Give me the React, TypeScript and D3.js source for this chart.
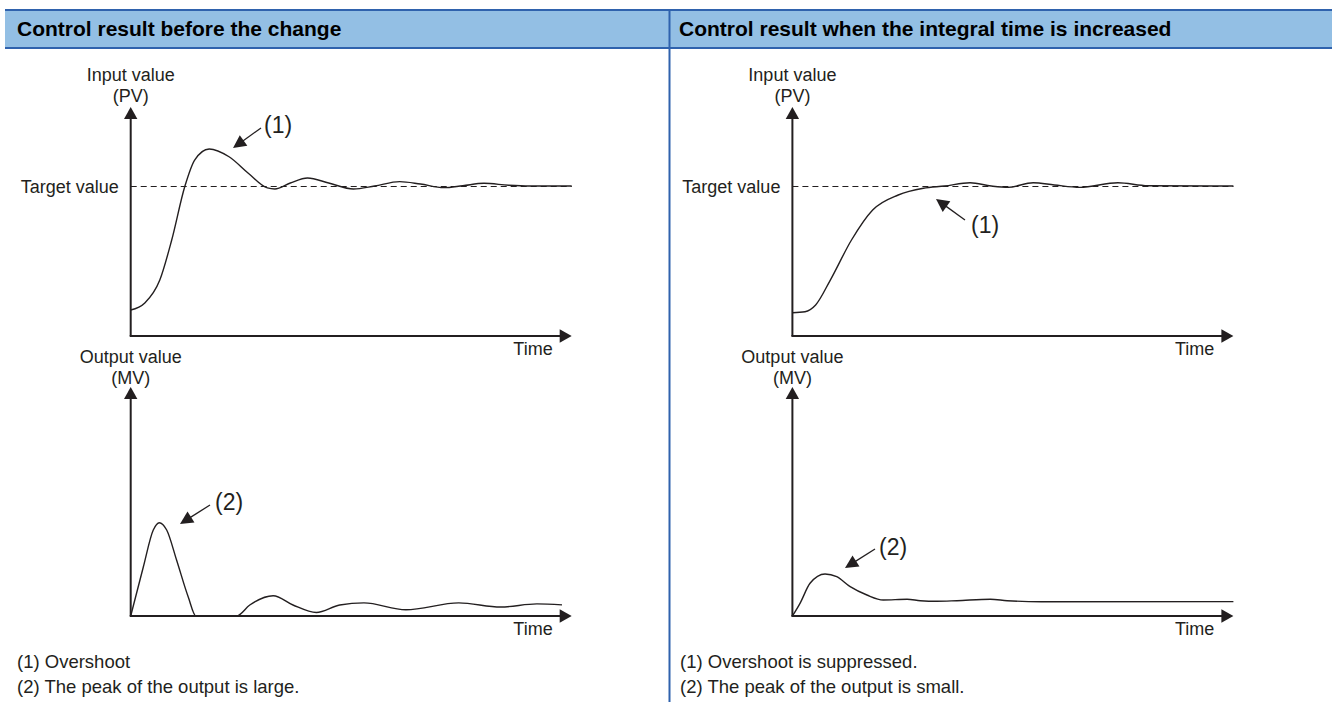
import React from "react";
import * as d3 from "d3";

// ---------- text ----------
const panelTitles = [
  "Control result before the change",
  "Control result when the integral time is increased",
];
const pvAxisLabel = ["Input value", "(PV)"];
const mvAxisLabel = ["Output value", "(MV)"];
const targetLabel = "Target value";
const timeLabel = "Time";
const notesBefore = ["(1) Overshoot", "(2) The peak of the output is large."];
const notesAfter = ["(1) Overshoot is suppressed.", "(2) The peak of the output is small."];
const markLabels = ["(1)", "(2)"];

// ---------- data: [time (0-100), value] ----------
// Input value (PV), target = 1
const pvBefore: [number, number][] = [
  [0, 0.173], [3.2, 0.22], [6.6, 0.373], [9.3, 0.64], [12.3, 1.0], [14.5, 1.173],
  [17.8, 1.247], [22.3, 1.195], [26.6, 1.087], [31, 0.987], [32.7, 0.98],
  [36.2, 1.02], [40.1, 1.053], [44.9, 1.02], [50.5, 0.98], [55.3, 1.0],
  [61, 1.029], [65.7, 1.013], [71, 0.989], [75.3, 1.002], [80.1, 1.018],
  [85.7, 1.005], [90.5, 1.0], [100, 1.0],
];
const pvAfter: [number, number][] = [
  [0, 0.155], [2.86, 0.162], [5.27, 0.207], [8.6, 0.373], [13.4, 0.64], [18.2, 0.84],
  [24, 0.94], [29.7, 0.985], [34.5, 1.0], [40.3, 1.022], [45.1, 1.0], [48.9, 0.991],
  [54.6, 1.022], [59.4, 1.007], [65.2, 0.991], [73.8, 1.022], [80.6, 1.002], [100, 1.0],
];
// Output value (MV)
const mvBefore: [number, number][] = [
  [0, 0], [2.86, 0.49], [5.12, 0.86], [6.48, 0.933], [8.16, 0.86], [10.4, 0.56],
  [13.05, 0.19], [14.8, 0], [24, 0], [27, 0.11], [32.3, 0.203], [36.8, 0.11],
  [42.1, 0.035], [47.4, 0.11], [52.9, 0.131], [62.4, 0.062], [74.4, 0.131],
  [83.9, 0.09], [92.1, 0.121], [97.8, 0.111],
];
const mvAfter: [number, number][] = [
  [0, 0], [1.73, 0.127], [4.0, 0.327], [7.4, 0.42], [10.05, 0.393], [13.1, 0.293],
  [16.9, 0.21], [20.6, 0.16], [26.0, 0.167], [29.0, 0.153], [32.8, 0.147],
  [37.3, 0.153], [44.9, 0.167], [48.7, 0.153], [56.4, 0.143], [100, 0.144],
];

// ---------- styles ----------
const INK = "#231f20";
const BAND = "#93bfe4";
const RULE = "#2f62ad";
const FONT = "'Liberation Sans', Arial, Helvetica, sans-serif";

const W = 1332;
const H = 702;

type Pt = [number, number];

function Arrowhead({ from, to, len = 12, half = 6 }: { from: Pt; to: Pt; len?: number; half?: number }) {
  const dx = to[0] - from[0];
  const dy = to[1] - from[1];
  const d = Math.hypot(dx, dy);
  const ux = dx / d, uy = dy / d;
  const bx = to[0] - ux * len, by = to[1] - uy * len;
  const px = -uy * half, py = ux * half;
  const pts = [to, [bx + px, by + py], [bx - px, by - py]];
  return <polygon points={pts.map((p) => p.join(",")).join(" ")} fill={INK} />;
}

function ArrowLine({ from, to }: { from: Pt; to: Pt }) {
  const dx = to[0] - from[0], dy = to[1] - from[1];
  const d = Math.hypot(dx, dy);
  const end: Pt = [to[0] - (dx / d) * 10, to[1] - (dy / d) * 10];
  return (
    <g>
      <line x1={from[0]} y1={from[1]} x2={end[0]} y2={end[1]} stroke={INK} strokeWidth={1.3} />
      <Arrowhead from={from} to={to} len={13} half={6.5} />
    </g>
  );
}

function Axes({ x, y, tipX, tipY }: { x: number; y: number; tipX: number; tipY: number }) {
  return (
    <g>
      <line x1={x} y1={y} x2={x} y2={tipY + 11} stroke={INK} strokeWidth={2} />
      <line x1={x - 1} y1={y} x2={tipX - 11} y2={y} stroke={INK} strokeWidth={2} />
      <Arrowhead from={[x, y]} to={[x, tipY]} len={12} half={6.7} />
      <Arrowhead from={[x, y]} to={[tipX, y]} len={12} half={6.7} />
    </g>
  );
}

interface PanelProps {
  ox: number; // y-axis x position
  pv: Pt[];
  mv: Pt[];
  ann1: { text: Pt; from: Pt; to: Pt };
  ann2: { text: Pt; from: Pt; to: Pt };
}

const AXIS_LEN = 441;
const PV_AXIS_Y = 336;
const PV_TOP = 107;
const PV_TARGET_Y = 186;
const MV_AXIS_Y = 616;
const MV_TOP = 387;

function Panel({ ox, pv, mv, ann1, ann2 }: PanelProps) {
  const x = d3.scaleLinear().domain([0, 100]).range([ox, ox + AXIS_LEN]);
  const yPV = d3.scaleLinear().domain([0, 1]).range([PV_AXIS_Y, PV_TARGET_Y]);
  const yMV = d3.scaleLinear().domain([0, 1]).range([MV_AXIS_Y, MV_AXIS_Y - 100]);
  const linePV = d3.line<Pt>().x((d) => x(d[0])).y((d) => yPV(d[1])).curve(d3.curveMonotoneX);
  const lineMV = d3.line<Pt>().x((d) => x(d[0])).y((d) => yMV(d[1])).curve(d3.curveMonotoneX);
  const tipX = x(100);
  const txt = { fontFamily: FONT, fontSize: 18, fill: INK } as const;
  const big = { fontFamily: FONT, fontSize: 23, fill: INK } as const;
  return (
    <g>
      {/* PV chart */}
      <text x={ox} y={81} textAnchor="middle" {...txt}>{pvAxisLabel[0]}</text>
      <text x={ox} y={102} textAnchor="middle" {...txt}>{pvAxisLabel[1]}</text>
      <line x1={ox} x2={tipX} y1={yPV(1) + 0.5} y2={yPV(1) + 0.5} stroke={INK} strokeWidth={1.1} strokeDasharray="6 4" />
      <text x={ox - 12} y={yPV(1) + 6.5} textAnchor="end" {...txt}>{targetLabel}</text>
      <path d={linePV(pv) || ""} fill="none" stroke={INK} strokeWidth={1.4} />
      <Axes x={ox} y={PV_AXIS_Y} tipX={tipX} tipY={PV_TOP} />
      <text x={tipX - 19} y={PV_AXIS_Y + 18.5} textAnchor="end" {...txt}>{timeLabel}</text>
      <text x={ann1.text[0]} y={ann1.text[1]} {...big}>{markLabels[0]}</text>
      <ArrowLine from={ann1.from} to={ann1.to} />

      {/* MV chart */}
      <text x={ox} y={363} textAnchor="middle" {...txt}>{mvAxisLabel[0]}</text>
      <text x={ox} y={384} textAnchor="middle" {...txt}>{mvAxisLabel[1]}</text>
      <path d={lineMV(mv) || ""} fill="none" stroke={INK} strokeWidth={1.4} />
      <Axes x={ox} y={MV_AXIS_Y} tipX={tipX} tipY={MV_TOP} />
      <text x={tipX - 19} y={MV_AXIS_Y + 18.5} textAnchor="end" {...txt}>{timeLabel}</text>
      <text x={ann2.text[0]} y={ann2.text[1]} {...big}>{markLabels[1]}</text>
      <ArrowLine from={ann2.from} to={ann2.to} />
    </g>
  );
}

export default function App() {
  const titleStyle = { fontFamily: FONT, fontSize: 21, fontWeight: 700, fill: "#000" } as const;
  const noteStyle = { fontFamily: FONT, fontSize: 18.5, fill: INK } as const;
  return (
    <svg
      width={W}
      height={H}
      viewBox={`0 0 ${W} ${H}`}
      style={{ position: "absolute", left: 0, top: 0, background: "#fff" }}
    >
      <rect x={0} y={0} width={W} height={H} fill="#fff" />
      {/* header band */}
      <rect x={5} y={10} width={W - 5} height={38} fill={BAND} />
      <line x1={5} x2={W} y1={10} y2={10} stroke={RULE} strokeWidth={2} />
      <line x1={5} x2={W} y1={48} y2={48} stroke={RULE} strokeWidth={2} />
      <line x1={669.5} x2={669.5} y1={10} y2={H} stroke={RULE} strokeWidth={2} />
      <text x={17} y={35.5} {...titleStyle}>{panelTitles[0]}</text>
      <text x={679} y={35.5} {...titleStyle}>{panelTitles[1]}</text>

      <Panel
        ox={130.7}
        pv={pvBefore}
        mv={mvBefore}
        ann1={{ text: [264, 133], from: [261, 128], to: [233, 148] }}
        ann2={{ text: [215, 510], from: [210, 505], to: [180, 524] }}
      />
      <Panel
        ox={792.4}
        pv={pvAfter}
        mv={mvAfter}
        ann1={{ text: [971, 233], from: [965, 220], to: [936, 199] }}
        ann2={{ text: [879, 555], from: [875, 549], to: [845, 568] }}
      />

      <text x={17} y={668} {...noteStyle}>{notesBefore[0]}</text>
      <text x={17} y={693} {...noteStyle}>{notesBefore[1]}</text>
      <text x={680} y={668} {...noteStyle}>{notesAfter[0]}</text>
      <text x={680} y={693} {...noteStyle}>{notesAfter[1]}</text>
    </svg>
  );
}
